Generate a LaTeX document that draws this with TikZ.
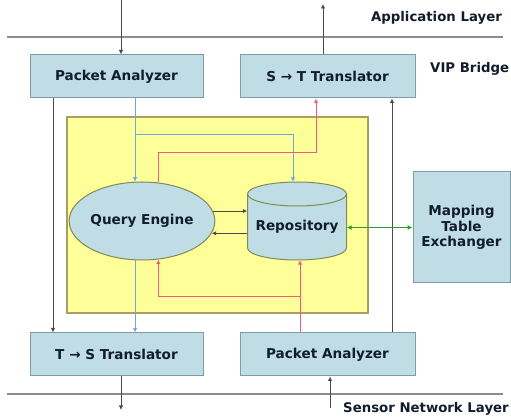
\documentclass[tikz,border=0pt]{standalone}
\usepackage{fontspec}
\setmainfont{DejaVu Sans}
\usetikzlibrary{shapes.geometric,arrows.meta,calc}

\definecolor{boxfill}{HTML}{C0DDE6}
\definecolor{boxline}{HTML}{7D9DA5}
\definecolor{corefill}{HTML}{FFFF99}
\definecolor{coreline}{HTML}{A8A060}
\definecolor{shapeline}{HTML}{7F8A55}
\definecolor{txt}{HTML}{121C2C}
\definecolor{flowblue}{HTML}{6FA6E2}
\definecolor{flowpink}{HTML}{EE5C86}
\definecolor{flowgreen}{HTML}{2F9A2F}
\definecolor{layerline}{HTML}{8C8C8C}
\definecolor{wire}{HTML}{4A4A4A}

\tikzset{
  x=1pt, y=1pt,
  lbl/.style={font=\bfseries\fontsize{13.6}{15.5}\selectfont, text=txt},
  module/.style={draw=boxline, line width=1pt, fill=boxfill, rectangle, lbl,
    minimum width=173pt, minimum height=43pt, inner sep=0pt},
  tip/.style={-{Latex[length=4.5pt,width=4.5pt]}},
  wireline/.style={draw=wire, line width=1pt, tip},
  blueline/.style={draw=flowblue, line width=1pt, tip},
  pinkline/.style={draw=flowpink, line width=1pt, tip},
  layer/.style={draw=layerline, line width=1.2pt},
  caption/.style={font=\bfseries\fontsize{13.3}{15}\selectfont, text=txt, inner sep=0pt},
}

\begin{document}
\begin{tikzpicture}
\useasboundingbox (0,0) rectangle (511,417);
\fill[white] (0,0) rectangle (511,417);

% layer boundaries
\coordinate (topL) at (7,380);
\coordinate (topR) at (503,380);
\coordinate (botL) at (7,23);
\coordinate (botR) at (503,23);
\draw[layer] (topL) -- (topR);
\draw[layer] (botL) -- (botR);

\node[caption, anchor=east] (applayer) at (502,399) {Application Layer};
\node[caption, anchor=west] (vip) at (430,348) {VIP Bridge};
\node[caption, anchor=base west] (sensor) at (343,4) {Sensor Network Layer};

% core area
\node[draw=coreline, line width=1.2pt, fill=corefill, rectangle,
      minimum width=301pt, minimum height=196pt, inner sep=0pt] (core) at (217.5,202) {};

% modules
\node[module] (pa1) at (116.5,340.5) {Packet Analyzer};
\node[module, minimum width=175pt] (st) at (327.5,340.5) {S \textrightarrow\ T Translator};
\node[module] (ts) at (116.5,62.5) {T \textrightarrow\ S Translator};
\node[module, minimum width=175pt] (pa2) at (327.5,62.5) {Packet Analyzer};
\node[module, minimum width=97pt, minimum height=111pt, align=center] (mte) at (461.5,189.5)
  {Mapping\\Table\\Exchanger};

% query engine
\node[ellipse, draw=shapeline, line width=1pt, fill=boxfill, lbl,
      minimum width=121pt, minimum height=78pt, inner sep=0pt] (qe) at (142,196) {Query Engine};

% repository drawn as a cylinder
\node[rectangle, minimum width=99pt, minimum height=78pt, inner sep=0pt] (repo) at (297,196) {};
\draw[draw=shapeline, line width=1pt, fill=boxfill]
  (247.5,223) -- (247.5,169) arc[start angle=180, end angle=360, x radius=49.5, y radius=12]
  -- (346.5,223) arc[start angle=0, end angle=180, x radius=49.5, y radius=12] -- cycle;
\draw[draw=shapeline, line width=1pt]
  (247.5,223) arc[start angle=180, end angle=360, x radius=49.5, y radius=12];
\node[lbl] at (297,190) {Repository};

% application / sensor links
\coordinate (appIn) at (121,417);
\coordinate (appOut) at (323,413);
\coordinate (snOut) at (121,7);
\coordinate (snIn) at (330,9);
\draw[wireline] (appIn) -- (appIn |- pa1.north);
\draw[wireline] (appOut |- st.north) -- (appOut);
\draw[wireline] (snOut |- ts.south) -- (snOut);
\draw[wireline] (snIn) -- (snIn |- pa2.south);

% bypass links
\coordinate (leftRail) at (53,0);
\coordinate (rightRail) at (392,0);
\draw[wireline] (leftRail |- pa1.south) -- (leftRail |- ts.north);
\draw[wireline] (rightRail |- pa2.north) -- (rightRail |- st.south);

% query engine <-> repository
\draw[wireline] (qe.8) -- (repo.west |- qe.8);
\draw[wireline] (repo.west |- qe.-10) -- (qe.-10);

% analyzer to query engine and repository (blue)
\coordinate (qeTopIn) at (qe.100);
\coordinate (qeBotOut) at (qe.260);
\coordinate (repoTopIn) at ($(repo.north)+(-4,0)$);
\coordinate (blueSplit) at (135,282);
\draw[blueline] (pa1.south -| qeTopIn) -- (qeTopIn);
\draw[blueline] (blueSplit) -| (repoTopIn);
\draw[blueline] (qeBotOut) -- (ts.north -| qeBotOut);

% query engine to S->T translator (pink)
\coordinate (qeTopOut) at (qe.67);
\coordinate (pinkTurn) at (316,264);
\draw[pinkline] (qeTopOut) |- (pinkTurn) -- (pinkTurn |- st.south);

% lower analyzer to repository and query engine (pink)
\coordinate (repoBotIn) at ($(repo.south)+(3,0)$);
\coordinate (qeBotIn) at (qe.293);
\coordinate (pinkSplit) at (300,120);
\draw[pinkline] (pa2.north -| repoBotIn) -- (repoBotIn);
\draw[pinkline] (pinkSplit) -| (qeBotIn);

% repository <-> mapping table exchanger
\draw[draw=flowgreen, line width=1.6pt, {Latex[length=5pt,width=5pt]}-{Latex[length=5pt,width=5pt]}]
  (repo.east |- mte.west) -- (mte.west);
\end{tikzpicture}
\end{document}
